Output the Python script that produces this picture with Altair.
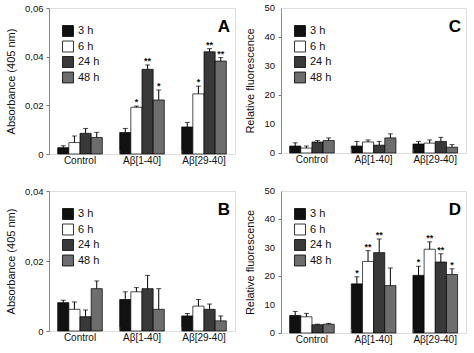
import altair as alt
import pandas as pd

groups = ["Control", "Aβ[1-40]", "Aβ[29-40]"]
times = ["3 h", "6 h", "24 h", "48 h"]
colors = ["#111111", "#ffffff", "#393939", "#6d6d6d"]

# y tick values
abs_ticks_A = [0, 0.01, 0.02, 0.03, 0.04, 0.05, 0.06]
abs_ticks_B = [0, 0.01, 0.02, 0.03, 0.04]
fl_ticks = [0, 10, 20, 30, 40, 50]

# Panel A: Absorbance (405 nm)
A_mean = [[0.0026, 0.0047, 0.0085, 0.0068],
          [0.0088, 0.0192, 0.0348, 0.0222],
          [0.0111, 0.0247, 0.0420, 0.0382]]
A_err = [[0.0008, 0.0027, 0.0020, 0.0021],
         [0.0017, 0.0005, 0.0018, 0.0041],
         [0.0019, 0.0032, 0.0013, 0.0014]]
A_star = [["", "", "", ""], ["", "*", "**", "*"], ["", "*", "**", "**"]]

# Panel B: Absorbance (405 nm)
B_mean = [[0.0081, 0.0062, 0.0041, 0.0121],
          [0.0090, 0.0112, 0.0121, 0.0062],
          [0.0043, 0.0071, 0.0062, 0.0029]]
B_err = [[0.0007, 0.0021, 0.0019, 0.0022],
         [0.0022, 0.0012, 0.0038, 0.0059],
         [0.0007, 0.0019, 0.0015, 0.0014]]
B_star = [["", "", "", ""], ["", "", "", ""], ["", "", "", ""]]

# Panel C: Relative fluorescence
C_mean = [[2.4, 1.7, 3.8, 4.3], [2.4, 3.8, 2.7, 5.2], [3.1, 3.4, 4.0, 2.0]]
C_err = [[1.1, 0.7, 0.5, 0.9], [1.6, 0.7, 1.3, 1.4], [0.9, 1.1, 1.4, 0.9]]
C_star = [["", "", "", ""], ["", "", "", ""], ["", "", "", ""]]

# Panel D: Relative fluorescence
D_mean = [[6.2, 5.7, 2.9, 3.1], [17.3, 25.2, 28.3, 16.7], [20.3, 29.5, 25.0, 20.6]]
D_err = [[1.4, 1.2, 0.2, 0.3], [2.5, 3.8, 4.8, 6.2], [3.2, 2.6, 2.9, 2.0]]
D_star = [["", "", "", ""], ["*", "**", "**", ""], ["*", "**", "**", "*"]]

FONT = "Liberation Sans"


def build_df(means, errs, stars):
    rows = []
    for gi, g in enumerate(groups):
        for ti, t in enumerate(times):
            m = means[gi][ti]
            rows.append(dict(group=g, time=t, mean=m, top=m + errs[gi][ti],
                             star=stars[gi][ti]))
    return pd.DataFrame(rows)


def panel(means, errs, stars, ymax, yvalues, ytitle, letter, w, h, comma):
    df = build_df(means, errs, stars)
    x = alt.X("group:N", sort=groups,
              scale=alt.Scale(paddingInner=0.28, paddingOuter=0.14),
              axis=alt.Axis(title=None, labelAngle=0, ticks=False, domain=False,
                            labelFontSize=10, labelFont=FONT, labelColor="#111",
                            labelPadding=1))
    xo = alt.XOffset("time:N", sort=times,
                     scale=alt.Scale(paddingInner=0, paddingOuter=0))
    yscale = alt.Scale(domain=[0, ymax], nice=False)
    extra = {}
    if comma:
        extra["labelExpr"] = ("round(datum.value*100) % 2 == 0 ? (datum.value == 0 ? '0' : "
                              "replace(format(datum.value, '.2f'), '.', ',')) : ''")
        extra["titlePadding"] = 8
    else:
        extra["labels"] = False
        extra["titlePadding"] = 22
    yaxis = alt.Axis(title=ytitle, values=yvalues,
                     grid=False, tickSize=3, tickColor="#777",
                     domainColor="#888", labelFontSize=9.5, labelFont=FONT,
                     labelColor="#111", titleFont=FONT, titleFontSize=11,
                     titleFontWeight="normal", titleColor="#111",
                     labelPadding=3, **extra)
    base = alt.Chart(df)
    bars = base.mark_bar(stroke="#000", strokeWidth=0.7).encode(
        x=x, xOffset=xo,
        y=alt.Y("mean:Q", scale=yscale, axis=yaxis),
        color=alt.Color("time:N", sort=times,
                        scale=alt.Scale(domain=times, range=colors),
                        legend=alt.Legend(orient="none", legendX=13, legendY=16,
                                          title=None, symbolType="square",
                                          symbolSize=120, symbolStrokeColor="#000",
                                          symbolStrokeWidth=0.8, symbolOpacity=1,
                                          labelFontSize=11, labelFont=FONT,
                                          labelColor="#111", rowPadding=1.5,
                                          clipHeight=14, labelOffset=4)))
    err = base.mark_rule(color="#000", strokeWidth=1).encode(
        x=x, xOffset=xo, y="mean:Q", y2="top:Q")
    cap = base.mark_tick(color="#000", thickness=1, size=5, orient="horizontal").encode(
        x=x, xOffset=xo, y="top:Q")
    st = base.mark_text(fontSize=9, fontWeight="bold", font=FONT, baseline="bottom",
                        dy=1, color="#111").encode(
        x=x, xOffset=xo, y="top:Q", text="star:N")
    sep = alt.Chart(pd.DataFrame({"group": groups[1:]})).mark_rule(
        color="#777", strokeWidth=1).encode(
        x=alt.X("group:N", sort=groups, bandPosition=0),
        y=alt.value(h - 4), y2=alt.value(h))
    lab = alt.Chart(pd.DataFrame({"t": [letter]})).mark_text(
        fontSize=17, fontWeight="bold", font=FONT, align="right", baseline="top",
        color="#000").encode(x=alt.value(w - 5), y=alt.value(11), text="t:N")
    layers = [bars, err, cap, st, sep, lab]
    if not comma:
        ticklab = alt.Chart(pd.DataFrame({"mean": yvalues})).mark_text(
            fontSize=9.5, font=FONT, align="right", baseline="middle", dx=-6,
            color="#111").encode(
            x=alt.value(0), y=alt.Y("mean:Q", scale=yscale, axis=yaxis),
            text=alt.Text("mean:Q", format="d"))
        layers.append(ticklab)
    return alt.layer(*layers).properties(width=w, height=h)


pA = panel(A_mean, A_err, A_star, 0.06, abs_ticks_A,
           "Absorbance (405 nm)", "A", 186, 146, True)
pB = panel(B_mean, B_err, B_star, 0.04, abs_ticks_B,
           "Absorbance (405 nm)", "B", 186, 140, True)
pC = panel(C_mean, C_err, C_star, 50, fl_ticks,
           "Relative fluorescence", "C", 185, 145, False)
pD = panel(D_mean, D_err, D_star, 50, fl_ticks,
           "Relative fluorescence", "D", 185, 142, False)

top = alt.hconcat(pA, pC, spacing=8).resolve_scale(color="independent", y="independent", x="independent")
bot = alt.hconcat(pB, pD, spacing=8).resolve_scale(color="independent", y="independent", x="independent")
chart = alt.vconcat(top, bot, spacing=19).resolve_scale(
    color="independent", y="independent", x="independent").resolve_legend(
    color="independent").configure_view(stroke="#999", strokeWidth=1.3).configure(
    padding={"left": 5, "top": 2, "right": 2, "bottom": 2})

chart.save("out.html", embed_options={"renderer": "svg", "actions": False})
